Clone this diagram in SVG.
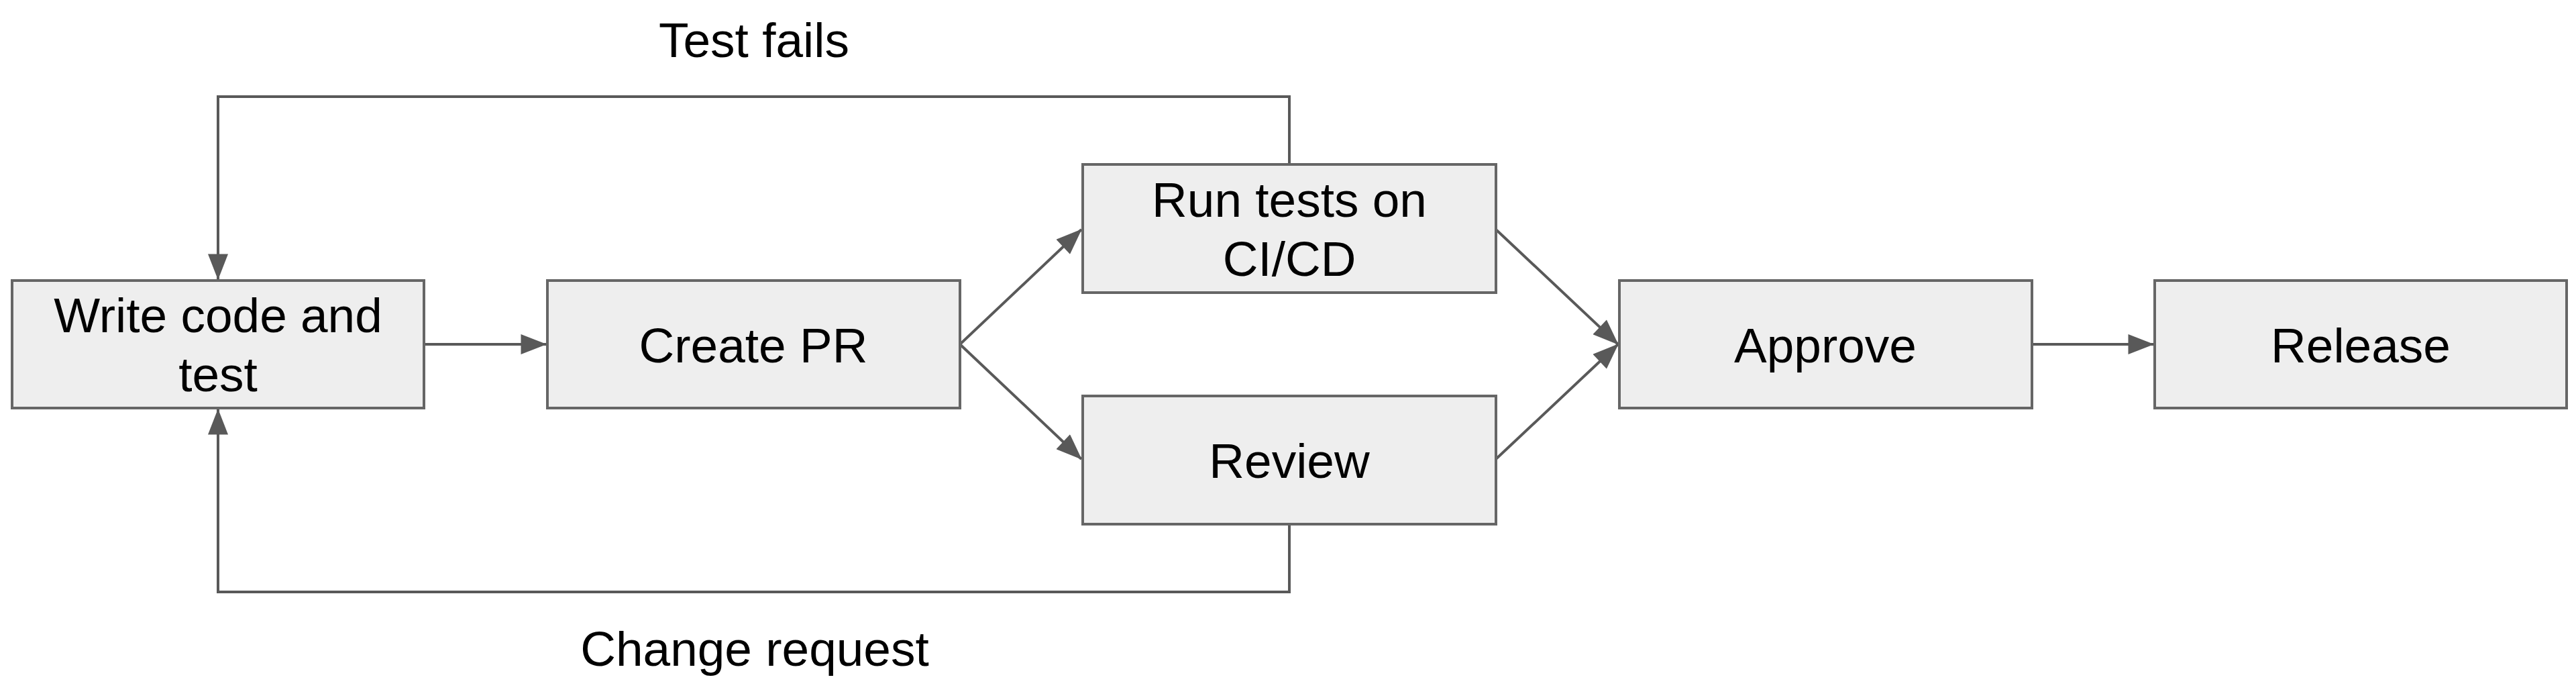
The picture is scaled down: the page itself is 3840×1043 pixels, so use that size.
<svg xmlns="http://www.w3.org/2000/svg" width="3840" height="1043" viewBox="0 0 3840 1043">
<defs>
<style>
.node rect{fill:#eeeeee;stroke:#666666;stroke-width:4}
.node text,.lbl{font-family:"Liberation Sans",Arial,sans-serif;font-size:73px;fill:#000;text-anchor:middle}
.edges path{fill:none;stroke:#595959;stroke-width:4}
</style>
<marker id="arr" markerUnits="userSpaceOnUse" markerWidth="40" markerHeight="30" viewBox="0 0 36 28" refX="35" refY="14" orient="auto">
<path d="M0,0 L36,14 L0,28 Z" fill="#595959"/>
</marker>
</defs>
<rect width="3840" height="1043" fill="#ffffff"/>
<g class="edges" id="connectors">
<path d="M632,513 L814,513" marker-end="url(#arr)"/>
<path d="M1431,513 L1612,342" marker-end="url(#arr)"/>
<path d="M1431,513 L1612,684" marker-end="url(#arr)"/>
<path d="M2230,342 L2412,513" marker-end="url(#arr)"/>
<path d="M2230,684 L2412,513" marker-end="url(#arr)"/>
<path d="M3029,513 L3210,513" marker-end="url(#arr)"/>
<path d="M1922,245 L1922,144 L325,144 L325,416" marker-end="url(#arr)"/>
<path d="M1922,781 L1922,882 L325,882 L325,610" marker-end="url(#arr)"/>
</g>
<text class="lbl" x="1124" y="85">Test fails</text>
<text class="lbl" x="1125" y="992">Change request</text>
<g class="node" id="write">
<rect x="18" y="418" width="614" height="190"/>
<text x="325" y="495">Write code and</text>
<text x="325" y="583">test</text>
</g>
<g class="node" id="createpr">
<rect x="816" y="418" width="615" height="190"/>
<text x="1123" y="540">Create PR</text>
</g>
<g class="node" id="runtests">
<rect x="1614" y="245" width="616" height="191"/>
<text x="1922" y="323">Run tests on</text>
<text x="1922" y="411">CI/CD</text>
</g>
<g class="node" id="review">
<rect x="1614" y="590" width="616" height="191"/>
<text x="1922" y="712">Review</text>
</g>
<g class="node" id="approve">
<rect x="2414" y="418" width="615" height="190"/>
<text x="2721" y="540">Approve</text>
</g>
<g class="node" id="release">
<rect x="3212" y="418" width="614" height="190"/>
<text x="3519" y="540">Release</text>
</g>
</svg>
